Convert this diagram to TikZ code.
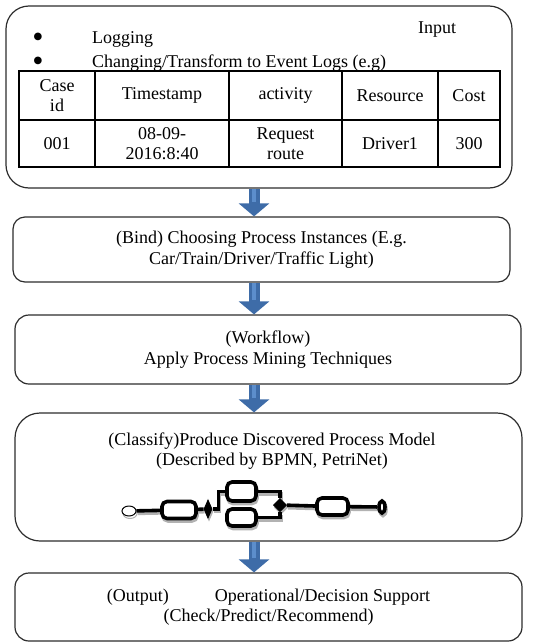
\documentclass[tikz,border=0pt]{standalone}
\usepackage{fontspec}
\setmainfont{Liberation Serif}
\newfontfamily\symfont{DejaVu Sans}
\usetikzlibrary{arrows.meta}
\usetikzlibrary{positioning}
\usetikzlibrary{shapes}

\definecolor{boxline}{RGB}{45,45,45}
\definecolor{arrowblue}{RGB}{62,108,168}
\definecolor{arrowlight}{RGB}{92,142,204}

% small BPMN-like model, drawn once per colour (shadow, then ink)
\newcommand{\petrimodel}[1]{%
  \begin{scope}[draw=#1, line width=3.6pt]
    \node[draw=#1, ellipse, line width=1pt, fill=white, minimum width=14pt, minimum height=10pt, inner sep=0pt] (start) at (129,511) {};
    \node[task, draw=#1, minimum width=34pt, minimum height=17pt] (taskA) at (179,510) {};
    \node[gate, draw=#1, fill=#1, minimum width=8pt, minimum height=18pt] (gate1) at (208,509) {};
    \node[task, draw=#1, minimum width=29pt, minimum height=19pt] (taskB) at (241.5,491.5) {};
    \node[task, draw=#1, minimum width=29pt, minimum height=17pt] (taskC) at (241.5,517.5) {};
    \node[gate, draw=#1, fill=#1, minimum width=13pt, minimum height=13pt] (gate2) at (280,505) {};
    \node[task, draw=#1, minimum width=31pt, minimum height=17pt] (taskD) at (332.5,506.5) {};
    \node[draw=#1, ellipse, fill=white, minimum width=6pt, minimum height=12pt, inner sep=0pt] (stop) at (382,507) {};
    \draw (start) -- (taskA);
    \draw (taskA) -- (gate1);
    \draw (gate1.east) -- ++(6,0) |- (taskB.west);
    \draw (taskB) -| (gate2);
    \draw (taskC) -| (gate2);
    \draw (gate2) -- (taskD);
    \draw (taskD) -- (stop);
  \end{scope}}

\begin{document}
\begin{tikzpicture}[x=1pt,y=-1pt,
    font=\fontsize{18}{20.5}\selectfont,
    stagebox/.style={draw=boxline, line width=1.2pt, rounded corners=#1, inner sep=0pt, align=center},
    stagebox/.default=13pt,
    cell/.style={align=center, inner sep=0pt},
    bulletmark/.style={font=\symfont\fontsize{10}{10}\selectfont, inner sep=0pt},
    task/.style={draw, fill=white, rectangle, rounded corners=5pt, inner sep=0pt},
    gate/.style={draw, diamond, line width=1pt, inner sep=0pt},
    blockarrow/.style={arrowblue, line width=11pt, -{Triangle[width=30pt,length=13pt]}},
    arrowstripe/.style={arrowlight, line width=3.5pt, shorten >=14pt}]
  \useasboundingbox (0,0) rectangle (536,643);

  % stages
  \node[stagebox=23pt, minimum width=506pt, minimum height=182pt] (input) at (259,97) {};
  \node[stagebox=12pt, minimum width=497pt, minimum height=65pt] (bind) at (261.5,249.5)
    {(Bind) Choosing Process Instances (E.g.\\Car/Train/Driver/Traffic Light)};
  \node[stagebox=14pt, minimum width=506pt, minimum height=69pt] (workflow) at (268,349.5)
    {(Workflow)\\Apply Process Mining Techniques};
  \node[stagebox=25pt, minimum width=507pt, minimum height=128pt] (classify) at (268.5,477) {};
  \node[stagebox=14pt, minimum width=507pt, minimum height=68pt] (output) at (268.5,607)
    {(Output)\hspace{46pt}Operational/Decision Support\\(Check/Predict/Recommend)};

  % input box contents
  \node[anchor=base] (inputTag) at (437,33) {Input};
  \node[bulletmark] (bulletA) at (38,37) {●};
  \node[bulletmark] (bulletB) at (38,61) {●};
  \node[anchor=base west, inner sep=0pt] (logging) at (92,43) {Logging};
  \node[anchor=base west, inner sep=0pt] (changing) at (92,67) {Changing/Transform to Event Logs (e.g)};

  % event log table
  \draw[line width=1.6pt] (19,71) rectangle (500,167);
  \draw[line width=1.6pt] (19,120) -- (500,120);
  \foreach \cx in {95,229,342,438}
    \draw[line width=1.6pt] (\cx,71) -- (\cx,167);
  \foreach \cx/\txt [count=\i] in {57/{Case\\id}, 162/Timestamp, 285.5/activity, 390/Resource, 469/Cost}
    \node[cell] (head\i) at (\cx,95.5) {\txt};
  \foreach \cx/\txt [count=\i] in {57/001, 162/{08-09-\\2016:8:40}, 285.5/{Request\\route}, 390/Driver1, 469/300}
    \node[cell] (row\i) at (\cx,143.5) {\txt};

  % classify box contents
  \node[cell] (classText) at (272,451)
    {(Classify)Produce Discovered Process Model\\(Described by BPMN, PetriNet)};
  \begin{scope}[shift={(1,2.5)}]
    \petrimodel{black!30}
  \end{scope}
  \petrimodel{black}

  % flow arrows
  \coordinate (spine) at (254,0);
  \foreach \a/\b in {input/bind, bind/workflow, workflow/classify, classify/output} {
    \draw[blockarrow] (\a.south -| spine) -- (\b.north -| spine);
    \draw[arrowstripe] (\a.south -| spine) -- (\b.north -| spine);
  }
\end{tikzpicture}
\end{document}
